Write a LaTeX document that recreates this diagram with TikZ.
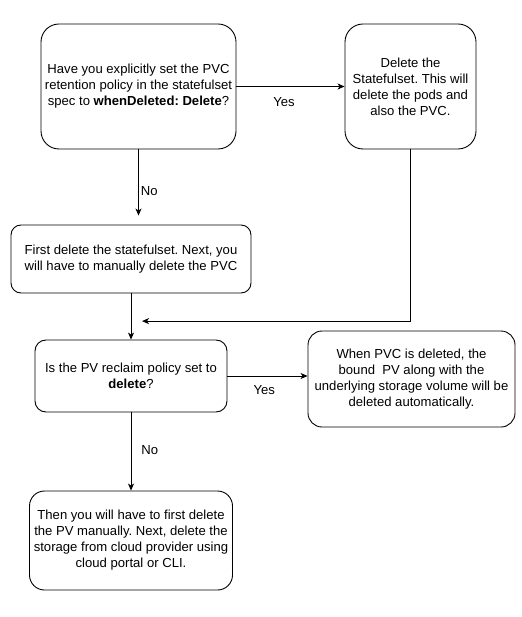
\documentclass[tikz,border=0pt]{standalone}
\usepackage{fontspec}
\setmainfont{Liberation Sans}
\usetikzlibrary{positioning, arrows.meta, calc}
\frenchspacing

\begin{document}
\begin{tikzpicture}[x=1pt, y=1pt, on grid,
        flowbox/.style={draw, line width=0.9pt, rounded corners=#1, align=center, inner sep=2pt, font=\fontsize{13.1}{16}\selectfont},
        flowbox/.default=12pt,
        flow/.style={-{Stealth[length=7pt,width=6pt,inset=2pt]}, line width=0.8pt},
        lbl/.style={font=\fontsize{13.1}{16}\selectfont, inner sep=2pt}]
        \useasboundingbox (0,0) rectangle (521,-617);

        \node[flowbox=18pt, minimum width=195pt, minimum height=125pt] (Q1) at (138.5,-86.5) {Have you explicitly set the PVC\\retention policy in the statefulset\\spec to \textbf{whenDeleted: Delete}?};
        \node[flowbox=18pt, minimum width=131pt, minimum height=125pt] (D1) [right=272pt of Q1] {Delete the\\Statefulset. This will\\delete the pods and\\also the PVC.};
        \node[flowbox=10pt, minimum width=240pt, minimum height=68pt]  (M1) [below left=172.5pt and 7.5pt of Q1] {First delete the statefulset. Next, you\\will have to manually delete the PVC};
        \node[flowbox=11pt, minimum width=192pt, minimum height=72pt]  (Q2) [below=117pt of M1] {Is the PV reclaim policy set to\\\textbf{delete}?};
        \node[flowbox=14pt, minimum width=207pt, minimum height=96pt]  (D2) [below right=3pt and 280.5pt of Q2] {When PVC is deleted, the\\bound\ \ PV along with the\\underlying storage volume will be\\deleted automatically.};
        \node[flowbox=15pt, minimum width=203pt, minimum height=99pt]  (M2) [below=164.5pt of Q2] {Then you will have to first delete\\the PV manually. Next, delete the\\storage from cloud provider using\\cloud portal or CLI.};

        \coordinate (noend) at ($(Q1.south |- M1.north)+(0,9)$);
        \coordinate (merge) at ($(M1.south)!0.6!(Q2.north)+(11,0)$);

        \path[flow]
          (Q1.east)  edge node[lbl, below=9pt, pos=0.44] {Yes} (Q1.east -| D1.west)
          (Q1.south) edge node[lbl, right, pos=0.63] {No} (noend)
          (M1)       edge (Q2)
          (Q2.east)  edge node[lbl, below=7pt, pos=0.46] {Yes} (Q2.east -| D2.west)
          (Q2)       edge node[lbl, right=8pt, pos=0.48] {No} (M2);
        \draw[flow] (D1.south) |- (merge);
      \end{tikzpicture}
\end{document}
